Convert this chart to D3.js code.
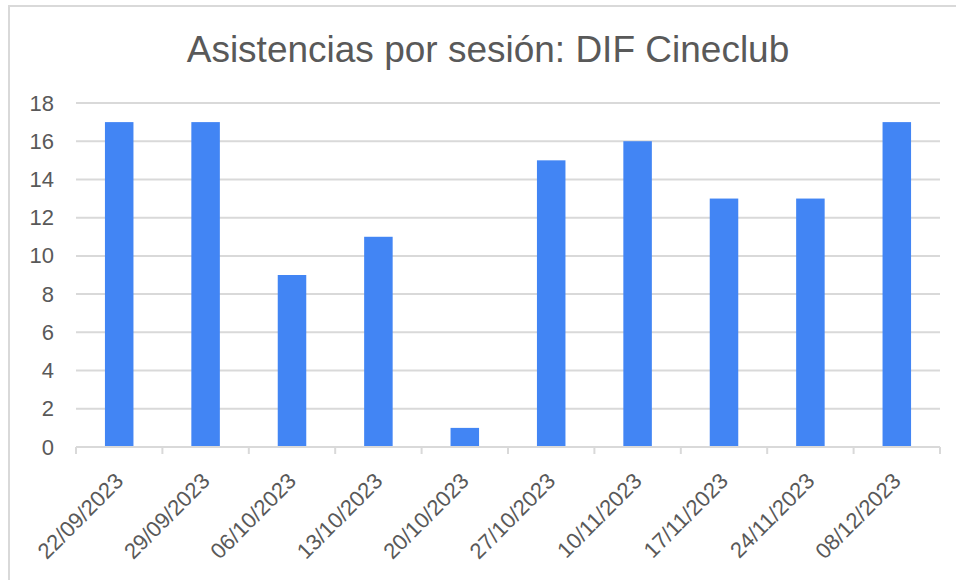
<!DOCTYPE html>
<html>
<head>
<meta charset="utf-8">
<script src="https://cdn.jsdelivr.net/npm/d3@7"></script>
<style>
  body { margin: 0; background: #fff; }
  #chart { width: 956px; height: 580px; }
</style>
</head>
<body>
<div id="chart"></div>
<script>
const sessionDates = ["22/09/2023", "29/09/2023", "06/10/2023", "13/10/2023", "20/10/2023",
  "27/10/2023", "10/11/2023", "17/11/2023", "24/11/2023", "08/12/2023"];
const attendance = [17, 17, 9, 11, 1, 15, 16, 13, 13, 17];
const yTicks = [0, 2, 4, 6, 8, 10, 12, 14, 16, 18];

const width = 956, height = 580;
const margin = { top: 103, right: 16, bottom: 133, left: 76 };
const plotW = width - margin.left - margin.right;
const plotH = height - margin.top - margin.bottom;
const textColor = "#595959";
const gridColor = "#d9d9d9";
const fontFamily = "'Liberation Sans', Arial, sans-serif";

const svg = d3.select("#chart")
  .append("svg")
  .attr("width", width)
  .attr("height", height)
  .style("font-family", fontFamily);

// outer frame of the chart
svg.append("rect")
  .attr("x", 9).attr("y", 6)
  .attr("width", width + 20).attr("height", height + 20)
  .attr("fill", "none")
  .attr("stroke", gridColor)
  .attr("stroke-width", 2);

svg.append("text")
  .attr("x", 488)
  .attr("y", 62)
  .attr("text-anchor", "middle")
  .style("font-size", "37px")
  .style("fill", textColor)
  .text("Asistencias por sesión: DIF Cineclub");

const g = svg.append("g")
  .attr("transform", `translate(${margin.left},${margin.top})`);

const xScale = d3.scaleBand()
  .domain(sessionDates)
  .range([0, plotW]);

const yScale = d3.scaleLinear()
  .domain([0, 18])
  .range([plotH, 0]);

// gridlines
g.selectAll(".grid")
  .data(yTicks.filter(t => t > 0))
  .join("line")
  .attr("class", "grid")
  .attr("x1", 0).attr("x2", plotW)
  .attr("y1", d => yScale(d)).attr("y2", d => yScale(d))
  .attr("stroke", gridColor)
  .attr("stroke-width", 2);

// bars
const barW = xScale.bandwidth() * 0.33;
g.selectAll(".bar")
  .data(sessionDates)
  .join("rect")
  .attr("class", "bar")
  .attr("x", d => xScale(d) + (xScale.bandwidth() - barW) / 2)
  .attr("y", (d, i) => yScale(attendance[i]))
  .attr("width", barW)
  .attr("height", (d, i) => plotH - yScale(attendance[i]))
  .attr("fill", "#4285f4");

// y axis labels
const yAxis = g.append("g")
  .call(d3.axisLeft(yScale).tickValues(yTicks).tickSize(0).tickPadding(22));
yAxis.select(".domain").remove();
yAxis.selectAll("text")
  .style("font-size", "22px")
  .style("fill", textColor)
  .style("font-family", fontFamily);

// x axis: baseline with ticks at band edges
const xAxis = g.append("g")
  .attr("transform", `translate(0,${plotH})`);
xAxis.append("line")
  .attr("x1", 0).attr("x2", plotW)
  .attr("stroke", gridColor)
  .attr("stroke-width", 2);
const edges = sessionDates.map(d => xScale(d)).concat([plotW]);
xAxis.selectAll(".tick-mark")
  .data(edges)
  .join("line")
  .attr("class", "tick-mark")
  .attr("x1", d => d).attr("x2", d => d)
  .attr("y1", 0).attr("y2", 7)
  .attr("stroke", gridColor)
  .attr("stroke-width", 2);

xAxis.selectAll(".xlabel")
  .data(sessionDates)
  .join("text")
  .attr("class", "xlabel")
  .attr("transform", d => `translate(${xScale(d) + xScale.bandwidth() / 2},${30}) rotate(-45)`)
  .attr("text-anchor", "end")
  .attr("dy", "0.35em")
  .style("font-size", "22px")
  .style("fill", textColor)
  .text(d => d);
</script>
</body>
</html>
